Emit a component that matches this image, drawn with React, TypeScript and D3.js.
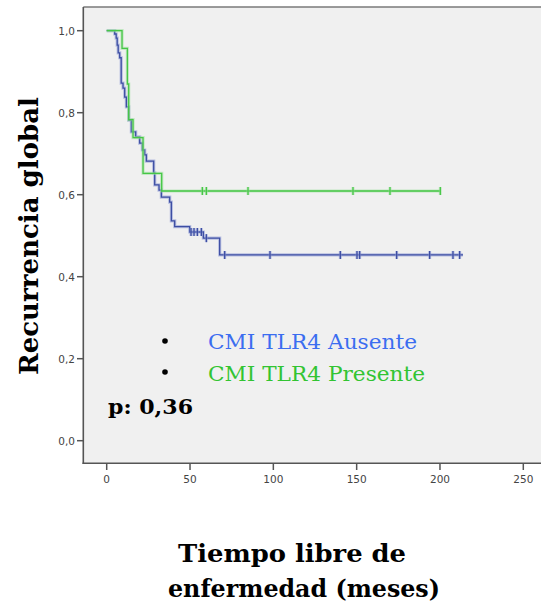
import React from "react";
import * as d3 from "d3";

const xTicks = [0, 50, 100, 150, 200, 250];
const yTicks = [0, 0.2, 0.4, 0.6, 0.8, 1.0];

const ausenteTimes = [4.8, 5.7, 6.3, 6.9, 7.8, 8.7, 9.8, 10.8, 11.8, 13.2, 14.8, 17.4, 19.8, 21.4, 22.8, 23.8, 28.2, 28.8, 31.4, 32.8, 37.8, 38.8, 40.8, 49.8, 58, 67.8];
const ausenteSurv = [0.992, 0.982, 0.965, 0.946, 0.934, 0.872, 0.86, 0.838, 0.814, 0.782, 0.753, 0.741, 0.726, 0.709, 0.697, 0.682, 0.653, 0.624, 0.611, 0.594, 0.582, 0.536, 0.522, 0.509, 0.494, 0.453];
const ausenteCensored = [50.6, 52.4, 54.4, 56.8, 59.8, 70.8, 98, 140.2, 150.2, 151.8, 174, 193.8, 207.8, 211.8];
const ausenteEnd = 213.8;

const presenteTimes = [9.2, 12.4, 13.2, 15.8, 21.8, 33];
const presenteSurv = [0.957, 0.87, 0.783, 0.739, 0.652, 0.609];
const presenteCensored = [57.4, 59.8, 84.8, 147.8, 170, 200.2];
const presenteEnd = 200.4;

const legendLabels = ["CMI TLR4 Ausente", "CMI TLR4 Presente"];
const pValueLabel = "p: 0,36";
const yAxisTitle = "Recurrencia global";
const xAxisTitle = ["Tiempo libre de", "enfermedad (meses)"];

const W = 541;
const H = 608;
const x = d3.scaleLinear().domain([0, 250]).range([106.7, 523.3]);
const y = d3.scaleLinear().domain([0, 1]).range([440.7, 30.7]);

function stepPoints(times: number[], surv: number[], end: number): [number, number][] {
  const pts: [number, number][] = [[0, 1]];
  times.forEach((t, i) => pts.push([t, surv[i]]));
  pts.push([end, surv[surv.length - 1]]);
  return pts;
}
function survAt(times: number[], surv: number[], t: number) {
  let s = 1;
  times.forEach((tt, i) => {
    if (tt <= t) s = surv[i];
  });
  return s;
}

const line = d3
  .line<[number, number]>()
  .x((d) => x(d[0]))
  .y((d) => y(d[1]))
  .curve(d3.curveStepAfter);

function Curve({ times, surv, end, cens, core, halo }: any) {
  const d = line(stepPoints(times, surv, end)) || "";
  return (
    <g fill="none">
      <path d={d} stroke={halo} strokeWidth={3.2} opacity={0.55} />
      <path d={d} stroke={core} strokeWidth={1.3} />
      {cens.map((t: number, i: number) => {
        const cx = x(t);
        const cy = y(survAt(times, surv, t));
        return (
          <g key={i}>
            <line x1={cx} x2={cx} y1={cy - 4} y2={cy + 4} stroke={halo} strokeWidth={3} opacity={0.55} />
            <line x1={cx} x2={cx} y1={cy - 4} y2={cy + 4} stroke={core} strokeWidth={1.3} />
          </g>
        );
      })}
    </g>
  );
}

export default function App() {
  return (
    <svg width={W} height={H} style={{ position: "absolute", left: 0, top: 0, background: "#ffffff" }}>
      <rect x={83.3} y={7} width={W - 83.3} height={463.3 - 7} fill="#f0f0f0" />
      <line x1={83.3} x2={W} y1={7} y2={7} stroke="#7a7a7a" strokeWidth={1.5} />
      <line x1={83.3} x2={83.3} y1={7} y2={464} stroke="#555" strokeWidth={1.6} />
      <line x1={82.5} x2={W} y1={463.3} y2={463.3} stroke="#555" strokeWidth={1.6} />
      {yTicks.map((t) => (
        <g key={t}>
          <line x1={77} x2={83.3} y1={y(t)} y2={y(t)} stroke="#555" strokeWidth={1.5} />
          <text x={75} y={y(t) + 4} textAnchor="end" fontSize={10.5} fontFamily="DejaVu Sans" fill="#444">
            {t.toFixed(1).replace(".", ",")}
          </text>
        </g>
      ))}
      {xTicks.map((t) => (
        <g key={t}>
          <line x1={x(t)} x2={x(t)} y1={463.3} y2={470} stroke="#555" strokeWidth={1.5} />
          <text x={x(t)} y={483} textAnchor="middle" fontSize={10.5} fontFamily="DejaVu Sans" fill="#444">
            {t}
          </text>
        </g>
      ))}
      <Curve times={ausenteTimes} surv={ausenteSurv} end={ausenteEnd} cens={ausenteCensored} core="#3d4ea3" halo="#8a98d4" />
      <Curve times={presenteTimes} surv={presenteSurv} end={presenteEnd} cens={presenteCensored} core="#46c646" halo="#9be09b" />
      <circle cx={165} cy={341} r={2.8} fill="#000" />
      <circle cx={165} cy={372} r={2.8} fill="#000" />
      <text x={208} y={349} fontSize={20} fontFamily="DejaVu Serif" fill="#3b6df0" textLength={209} lengthAdjust="spacingAndGlyphs">
        {legendLabels[0]}
      </text>
      <text x={208} y={381} fontSize={20} fontFamily="DejaVu Serif" fill="#32c432" textLength={217} lengthAdjust="spacingAndGlyphs">
        {legendLabels[1]}
      </text>
      <text x={108} y={414} fontSize={21} fontWeight="bold" fontFamily="DejaVu Serif" fill="#000" textLength={85} lengthAdjust="spacingAndGlyphs">
        {pValueLabel}
      </text>
      <text
        transform="translate(38,236) rotate(-90)"
        textAnchor="middle"
        fontSize={26}
        fontWeight="bold"
        fontFamily="DejaVu Serif"
        fill="#000"
        textLength={278}
        lengthAdjust="spacingAndGlyphs"
      >
        {yAxisTitle}
      </text>
      <text x={292} y={562} textAnchor="middle" fontSize={25} fontWeight="bold" fontFamily="DejaVu Serif" fill="#000" textLength={228} lengthAdjust="spacingAndGlyphs">
        {xAxisTitle[0]}
      </text>
      <text x={304} y={597} textAnchor="middle" fontSize={25} fontWeight="bold" fontFamily="DejaVu Serif" fill="#000" textLength={272} lengthAdjust="spacingAndGlyphs">
        {xAxisTitle[1]}
      </text>
    </svg>
  );
}
